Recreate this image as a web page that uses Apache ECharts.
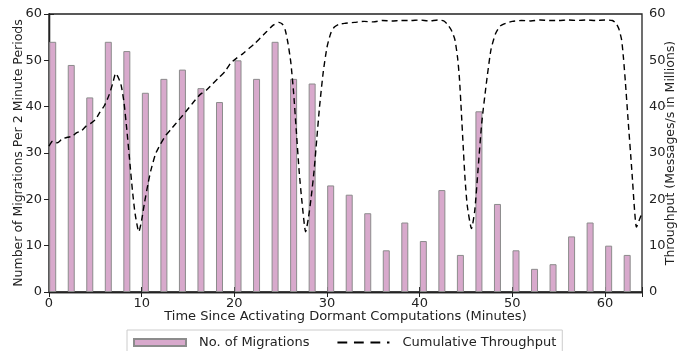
<!DOCTYPE html>
<html>
<head>
<meta charset="utf-8">
<script src="https://cdn.jsdelivr.net/npm/echarts@6/dist/echarts.min.js"></script>
<style>
  html, body { margin: 0; padding: 0; background: #fff; }
  #chart { width: 678px; height: 351px; }
</style>
</head>
<body>
<div id="chart"></div>
<script>
// Start minute of each 2-minute period
const periodStart = [0, 2, 4, 6, 8, 10, 12, 14, 16, 18, 20, 22, 24, 26, 28, 30,
                     32, 34, 36, 38, 40, 42, 44, 46, 48, 50, 52, 54, 56, 58, 60, 62];
// Number of migrations in each period
const migrations = [54, 49, 42, 54, 52, 43, 46, 48, 44, 41, 50, 46, 54, 46, 45, 23,
                    21, 17, 9, 15, 11, 22, 8, 39, 19, 9, 5, 6, 12, 15, 10, 8];
// Cumulative throughput samples: time (minutes) and messages/s in millions
const throughputTime = [
  0, 0.4, 0.9, 1.4, 2.0, 2.5, 3.0, 3.5, 4.0, 4.5, 5.0, 5.5, 6.0, 6.5, 6.9, 7.2,
  7.5, 7.8, 8.1, 8.4, 8.7, 9.0, 9.3, 9.7, 10.0, 10.3, 10.7, 11.0, 11.5, 12.0,
  12.6, 13.2, 14.0, 14.8, 15.6, 16.3, 17.0, 17.7, 18.4, 19.0, 19.6, 20.2, 20.9,
  21.6, 22.2, 22.8, 23.5, 24.2, 24.8, 25.2, 25.5, 25.8, 26.1, 26.4, 26.7, 27.0,
  27.3, 27.7, 28.0, 28.3, 28.6, 28.9, 29.2, 29.6, 30.0, 30.4, 30.8, 31.3, 32,
  33, 34, 35, 36, 37, 38, 39, 40, 41, 42, 42.6, 43.0, 43.4, 43.8, 44.1, 44.3,
  44.5, 44.7, 44.9, 45.15, 45.6, 45.95, 46.3, 46.7, 47.2, 47.7, 48.2, 48.7, 49.3,
  50, 51, 52, 53, 54, 55, 56, 57, 58, 59, 60, 60.8, 61.2, 61.5, 61.8, 62.0,
  62.2, 62.5, 62.9, 63.2, 63.4, 63.7, 64
];
const throughput = [
  31.5, 32.6, 32.2, 33.0, 33.4, 33.6, 34.4, 34.8, 35.8, 36.4, 37.2, 38.8, 40.3, 42.6, 45.2, 47.2,
  46.2, 44.5, 40.8, 35.0, 28.5, 22.0, 16.8, 13.0, 15.5, 19.2, 23.5, 26.3, 29.8, 31.8,
  33.8, 35.2, 37.1, 39.0, 41.0, 42.6, 43.6, 45.0, 46.4, 47.6, 49.4, 50.4, 51.4,
  52.6, 53.6, 54.8, 56.2, 57.6, 58.2, 57.8, 56.5, 53.6, 49.5, 43.0, 34.5, 26.0,
  19.5, 13.0, 16.0, 20.5, 26.0, 33.0, 40.0, 47.5, 52.8, 55.8, 57.2, 57.8, 58.0,
  58.2, 58.4, 58.3, 58.6, 58.5, 58.6, 58.6, 58.7, 58.5, 58.7, 58.5, 57.8, 56.6, 54.5, 50.5, 46.0,
  39.0, 31.5, 24.5, 18.5, 13.7, 17.6, 26.3, 36.4, 45.0, 52.3, 55.8, 57.4, 58.0,
  58.4, 58.6, 58.5, 58.7, 58.6, 58.6, 58.7, 58.6, 58.7, 58.6, 58.7, 58.6, 58.0, 56.8, 54.4, 50.5,
  45.5, 37.1, 26.3, 17.6, 14.0, 15.5, 17.0
];
const barOffset = 0.4; // bars occupy [start, start + 0.8]

const font = 'DejaVu Sans';
const axisColor = '#222';
// dashed-line legend glyph: three dashes and a dot
const dashIcon = 'path://M0,0h8v1.6h-8z M13.5,0h8v1.6h-8z M27,0h8v1.6h-8z M40.5,0h2v1.6h-2z';

const chart = echarts.init(document.getElementById('chart'), null, { renderer: 'canvas' });

const tickStyle = { show: true, inside: true, length: 5, lineStyle: { color: axisColor, width: 1 } };

chart.setOption({
  animation: false,
  grid: {
    left: 49, right: 36, top: 14, bottom: 59,
    outerBoundsMode: 'none',
    containLabel: false,
    show: true, borderColor: axisColor, borderWidth: 1.3, backgroundColor: 'transparent'
  },
  legend: {
    bottom: -6,
    left: 127,
    itemGap: 28,
    itemWidth: 52,
    itemHeight: 7,
    symbolKeepAspect: true,
    padding: [6, 6, 8, 6],
    borderColor: '#cccccc',
    borderWidth: 1,
    textStyle: { fontFamily: font, fontSize: 13, color: '#222', padding: [0, 0, 0, 8] },
    data: [
      { name: 'No. of Migrations', icon: 'rect' },
      { name: 'Cumulative Throughput', icon: dashIcon, itemStyle: { color: '#000', borderWidth: 0 } }
    ]
  },
  xAxis: [
    {
      type: 'value', min: 0, max: 64, interval: 10,
      name: 'Time Since Activating Dormant Computations (Minutes)',
      nameLocation: 'middle', nameGap: 18.5, nameMoveOverlap: false,
      nameTextStyle: { fontFamily: font, fontSize: 13, color: '#222' },
      axisLine: { show: true, lineStyle: { color: axisColor, width: 1.3 } },
      axisTick: tickStyle,
      axisLabel: { fontFamily: font, fontSize: 13, color: '#222', margin: 5,
                   formatter: v => (v % 10 === 0 ? String(v) : '') },
      splitLine: { show: false }
    },
    {
      type: 'value', min: 0, max: 64, interval: 10, position: 'top',
      axisLine: { show: true, lineStyle: { color: axisColor, width: 1.3 } },
      axisTick: tickStyle,
      axisLabel: { show: false },
      splitLine: { show: false }
    }
  ],
  yAxis: [
    {
      type: 'value', min: 0, max: 60, interval: 10,
      name: 'Number of Migrations Per 2 Minute Periods',
      nameLocation: 'middle', nameGap: 24, nameMoveOverlap: false,
      nameTextStyle: { fontFamily: font, fontSize: 12.5, color: '#222' },
      axisLine: { show: true, lineStyle: { color: axisColor, width: 1.3 } },
      axisTick: tickStyle,
      axisLabel: { fontFamily: font, fontSize: 13, color: '#222', margin: 7 },
      splitLine: { show: false }
    },
    {
      type: 'value', min: 0, max: 60, interval: 10, position: 'right',
      name: 'Throughput (Messages/s in Millions)',
      nameLocation: 'middle', nameGap: 22, nameRotate: 90, nameMoveOverlap: false,
      nameTextStyle: { fontFamily: font, fontSize: 12.5, color: '#222' },
      axisLine: { show: true, lineStyle: { color: axisColor, width: 1.3 } },
      axisTick: tickStyle,
      axisLabel: { fontFamily: font, fontSize: 13, color: '#222', margin: 7 },
      splitLine: { show: false }
    }
  ],
  series: [
    {
      name: 'No. of Migrations',
      type: 'bar',
      xAxisIndex: 0, yAxisIndex: 0,
      barWidth: 7,
      itemStyle: { color: '#d8a9cc', borderColor: '#8c8c8c', borderWidth: 1 },
      data: periodStart.map((t, i) => [t + barOffset, migrations[i]])
    },
    {
      name: 'Cumulative Throughput',
      type: 'line',
      xAxisIndex: 0, yAxisIndex: 1,
      symbol: 'none',
      smooth: 0.2,
      clip: true,
      lineStyle: { color: '#000', width: 1.4, type: [6, 4] },
      itemStyle: { color: '#000' },
      data: throughputTime.map((t, i) => [t, throughput[i]])
    }
  ]
});
</script>
</body>
</html>
